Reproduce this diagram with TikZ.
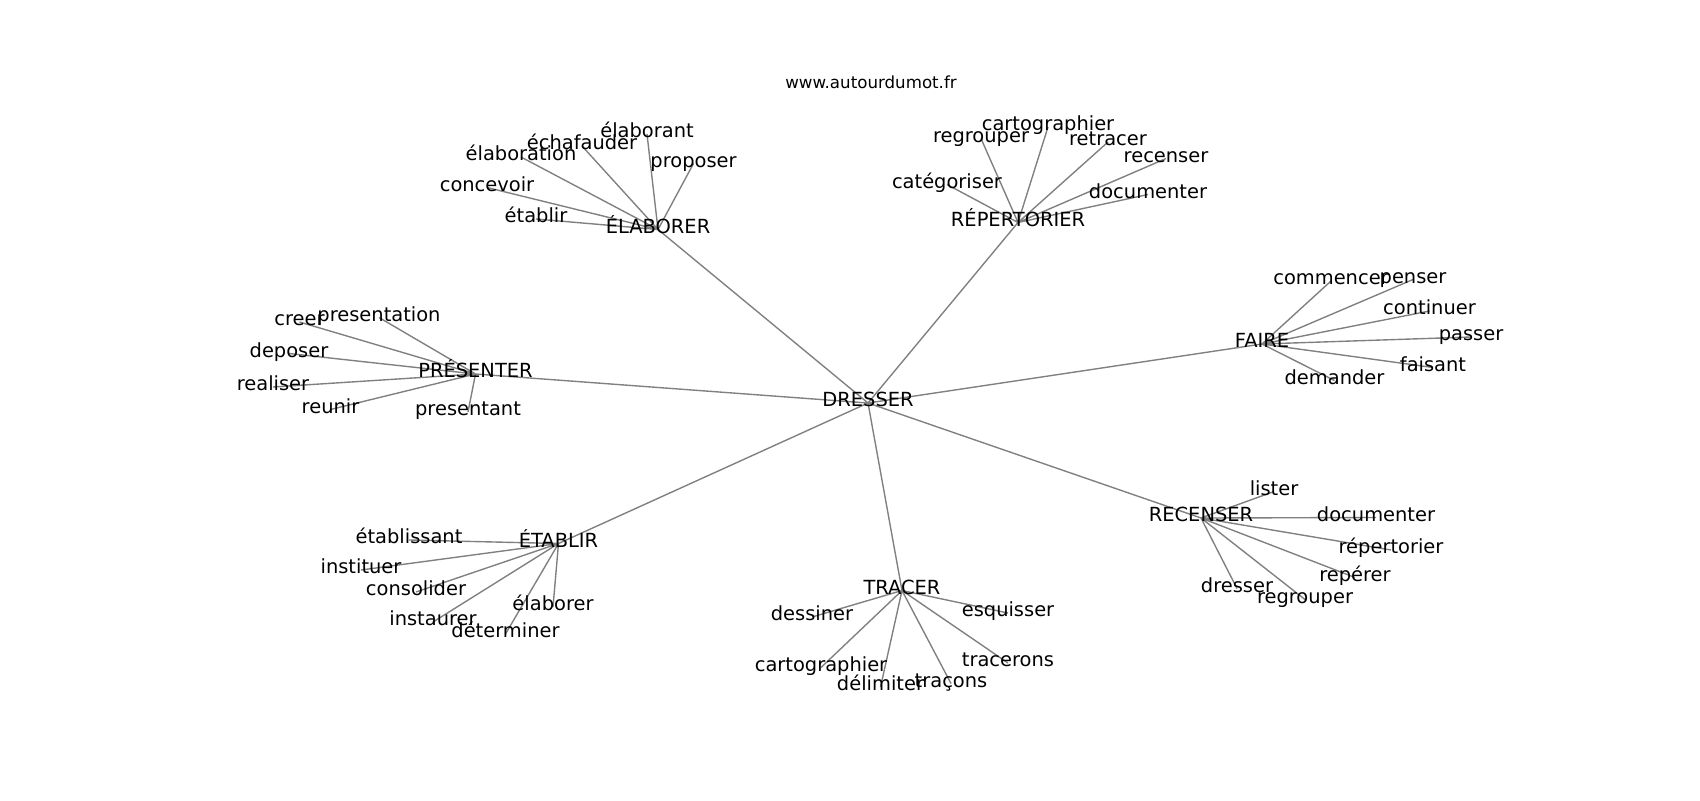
\documentclass[tikz,border=0pt]{standalone}
\usepackage{fontspec}
\setmainfont{DejaVu Sans}
\usetikzlibrary{backgrounds}
\tikzset{
  basic/.style = {inner sep=0pt, outer sep=0pt, text height=0.76em, text depth=0.2em},
  word/.style  = {basic, font=\fontsize{14}{17}\selectfont},
  site/.style  = {basic, font=\fontsize{12}{14}\selectfont},
  link/.style  = {draw=gray, line width=1pt}
}

\begin{document}
\begin{tikzpicture}[x=0.72pt,y=-0.72pt]
\useasboundingbox (0,-2) rectangle (1700,798);
\node[site] (site) at (871,82.5) {www.autourdumot.fr};

% centre and hubs
\node[word] (dresser) at (868,401) {DRESSER};
\node[word] (elaborer) at (658,227.5) {ÉLABORER};
\node[word] (repertorier) at (1018,220.5) {RÉPERTORIER};
\node[word] (presenter) at (475.5,372) {PRÉSENTER};
\node[word] (faire) at (1262,342) {FAIRE};
\node[word] (recenser) at (1201,516) {RECENSER};
\node[word] (tracer) at (902,588.5) {TRACER};
\node[word] (etablir) at (558.5,541.5) {ÉTABLIR};

% élaborer
\node[word] (el-1) at (647,132) {élaborant};
\node[word] (el-2) at (582,144) {échafauder};
\node[word] (el-3) at (521,155) {élaboration};
\node[word] (el-4) at (693.5,161.5) {proposer};
\node[word] (el-5) at (487,185.5) {concevoir};
\node[word] (el-6) at (536,217) {établir};

% répertorier
\node[word] (re-1) at (1048,125) {cartographier};
\node[word] (re-2) at (981,136.5) {regrouper};
\node[word] (re-3) at (1108,140) {retracer};
\node[word] (re-4) at (1166,156.5) {recenser};
\node[word] (re-5) at (947,182.5) {catégoriser};
\node[word] (re-6) at (1148,192.5) {documenter};

% présenter
\node[word] (pr-1) at (299.5,320) {creer};
\node[word] (pr-2) at (379,315.5) {presentation};
\node[word] (pr-3) at (289,351.5) {deposer};
\node[word] (pr-4) at (273,385) {realiser};
\node[word] (pr-5) at (330.5,407.5) {reunir};
\node[word] (pr-6) at (468,410) {presentant};

% faire
\node[word] (fa-1) at (1331,279) {commencer};
\node[word] (fa-2) at (1413,277.5) {penser};
\node[word] (fa-3) at (1429.5,309) {continuer};
\node[word] (fa-4) at (1471,335) {passer};
\node[word] (fa-5) at (1433,365.5) {faisant};
\node[word] (fa-6) at (1334.5,378.5) {demander};

% recenser
\node[word] (rc-1) at (1274,489.5) {lister};
\node[word] (rc-2) at (1376,515.5) {documenter};
\node[word] (rc-3) at (1391,548) {répertorier};
\node[word] (rc-4) at (1355,575.5) {repérer};
\node[word] (rc-5) at (1237,586.5) {dresser};
\node[word] (rc-6) at (1305,597.5) {regrouper};

% tracer
\node[word] (tr-1) at (812,615) {dessiner};
\node[word] (tr-2) at (1008,611) {esquisser};
\node[word] (tr-3) at (821,665.5) {cartographier};
\node[word] (tr-4) at (880.5,685) {délimiter};
\node[word] (tr-5) at (951,681.5) {traçons};
\node[word] (tr-6) at (1008,661) {tracerons};

% établir
\node[word] (et-1) at (409,538) {établissant};
\node[word] (et-2) at (361,568) {instituer};
\node[word] (et-3) at (416,590) {consolider};
\node[word] (et-4) at (553,605) {élaborer};
\node[word] (et-5) at (433,620) {instaurer};
\node[word] (et-6) at (505.5,632) {déterminer};

\begin{pgfonlayer}{background}
\draw[link] (dresser.center) -- (elaborer.center) (dresser.center) -- (repertorier.center)
  (dresser.center) -- (presenter.center) (dresser.center) -- (faire.center)
  (dresser.center) -- (recenser.center) (dresser.center) -- (tracer.center)
  (dresser.center) -- (etablir.center);
\draw[link] (elaborer.center) -- (el-1.center) (elaborer.center) -- (el-2.center)
  (elaborer.center) -- (el-3.center) (elaborer.center) -- (el-4.center)
  (elaborer.center) -- (el-5.center) (elaborer.center) -- (el-6.center);
\draw[link] (repertorier.center) -- (re-1.center) (repertorier.center) -- (re-2.center)
  (repertorier.center) -- (re-3.center) (repertorier.center) -- (re-4.center)
  (repertorier.center) -- (re-5.center) (repertorier.center) -- (re-6.center);
\draw[link] (presenter.center) -- (pr-1.center) (presenter.center) -- (pr-2.center)
  (presenter.center) -- (pr-3.center) (presenter.center) -- (pr-4.center)
  (presenter.center) -- (pr-5.center) (presenter.center) -- (pr-6.center);
\draw[link] (faire.center) -- (fa-1.center) (faire.center) -- (fa-2.center)
  (faire.center) -- (fa-3.center) (faire.center) -- (fa-4.center)
  (faire.center) -- (fa-5.center) (faire.center) -- (fa-6.center);
\draw[link] (recenser.center) -- (rc-1.center) (recenser.center) -- (rc-2.center)
  (recenser.center) -- (rc-3.center) (recenser.center) -- (rc-4.center)
  (recenser.center) -- (rc-5.center) (recenser.center) -- (rc-6.center);
\draw[link] (tracer.center) -- (tr-1.center) (tracer.center) -- (tr-2.center)
  (tracer.center) -- (tr-3.center) (tracer.center) -- (tr-4.center)
  (tracer.center) -- (tr-5.center) (tracer.center) -- (tr-6.center);
\draw[link] (etablir.center) -- (et-1.center) (etablir.center) -- (et-2.center)
  (etablir.center) -- (et-3.center) (etablir.center) -- (et-4.center)
  (etablir.center) -- (et-5.center) (etablir.center) -- (et-6.center);
\end{pgfonlayer}
\end{tikzpicture}
\end{document}
